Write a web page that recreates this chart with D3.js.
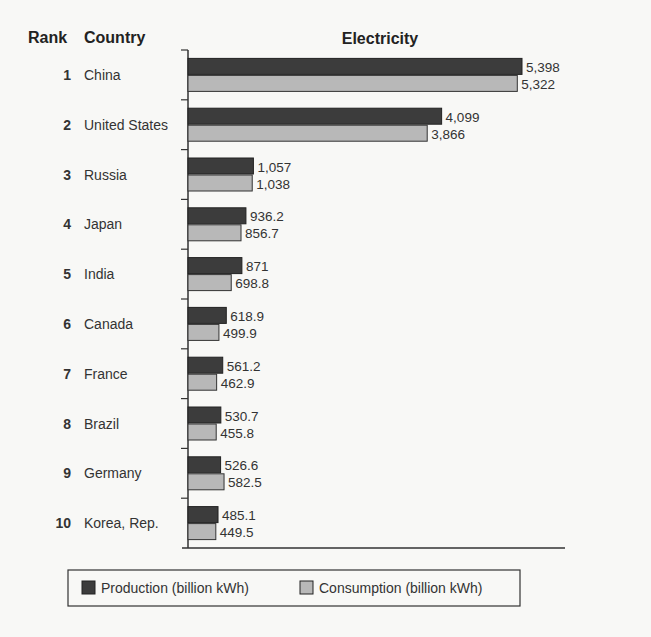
<!DOCTYPE html>
<html><head><meta charset="utf-8">
<script src="https://cdn.jsdelivr.net/npm/d3@7"></script>
<style>body{margin:0;background:#f8f8f6;font-family:"Liberation Sans",Arial,sans-serif;}</style>
</head><body>
<script>
const countries = ["China","United States","Russia","Japan","India","Canada","France","Brazil","Germany","Korea, Rep."];
const production = [5398,4099,1057,936.2,871,618.9,561.2,530.7,526.6,485.1];
const consumption = [5322,3866,1038,856.7,698.8,499.9,462.9,455.8,582.5,449.5];
const prodLabels = ["5,398","4,099","1,057","936.2","871","618.9","561.2","530.7","526.6","485.1"];
const consLabels = ["5,322","3,866","1,038","856.7","698.8","499.9","462.9","455.8","582.5","449.5"];

const W = 651, H = 637;
const svg = d3.select("body").append("svg").attr("width", W).attr("height", H)
  .style("background", "#f8f8f6");

const x0 = 188;
const x = d3.scaleLinear().domain([0, 5398]).range([x0, 522]);
const y = d3.scaleBand().domain(countries).range([50, 548]);

// header
svg.append("text").attr("x", 28).attr("y", 43).text("Rank").attr("font-weight", "bold").attr("font-size", 16).attr("fill", "#222");
svg.append("text").attr("x", 84).attr("y", 43).text("Country").attr("font-weight", "bold").attr("font-size", 16).attr("fill", "#222");
svg.append("text").attr("x", 380).attr("y", 44).attr("text-anchor", "middle").text("Electricity").attr("font-weight", "bold").attr("font-size", 16).attr("fill", "#222");

// axis
svg.append("line").attr("x1", x0).attr("x2", x0).attr("y1", 50).attr("y2", 548).attr("stroke", "#333").attr("stroke-width", 1.5);
svg.append("line").attr("x1", x0 - 6).attr("x2", 565).attr("y1", 548).attr("y2", 548).attr("stroke", "#333").attr("stroke-width", 1.5);
svg.selectAll(".tick").data(countries).enter().append("line")
  .attr("x1", x0 - 7).attr("x2", x0).attr("y1", d => y(d)).attr("y2", d => y(d))
  .attr("stroke", "#333").attr("stroke-width", 1.2);

const row = svg.selectAll(".row").data(countries).enter().append("g");
const bh = 16;
row.append("text").attr("x", 71).attr("y", d => y(d) + y.bandwidth() / 2 + 5)
  .attr("text-anchor", "end").attr("font-weight", "bold").attr("font-size", 14).attr("fill", "#333")
  .text((d, i) => i + 1);
row.append("text").attr("x", 84).attr("y", d => y(d) + y.bandwidth() / 2 + 5)
  .attr("font-size", 14).attr("fill", "#333").text(d => d);

row.append("rect").attr("x", x0).attr("y", d => y(d) + y.bandwidth() / 2 - bh - 0.5)
  .attr("width", (d, i) => x(production[i]) - x0).attr("height", bh)
  .attr("fill", "#3c3c3c").attr("stroke", "#222");
row.append("rect").attr("x", x0).attr("y", d => y(d) + y.bandwidth() / 2 + 0.5)
  .attr("width", (d, i) => x(consumption[i]) - x0).attr("height", bh)
  .attr("fill", "#b8b8b8").attr("stroke", "#333");
row.append("text").attr("x", (d, i) => x(production[i]) + 4).attr("y", d => y(d) + y.bandwidth() / 2 - 3)
  .attr("font-size", 13.5).attr("fill", "#333").text((d, i) => prodLabels[i]);
row.append("text").attr("x", (d, i) => x(consumption[i]) + 4).attr("y", d => y(d) + y.bandwidth() / 2 + 14)
  .attr("font-size", 13.5).attr("fill", "#333").text((d, i) => consLabels[i]);

// legend
svg.append("rect").attr("x", 68).attr("y", 570).attr("width", 452).attr("height", 36)
  .attr("fill", "none").attr("stroke", "#333").attr("stroke-width", 1.2);
const leg = [["Production (billion kWh)", "#3c3c3c", 82], ["Consumption (billion kWh)", "#b8b8b8", 300]];
leg.forEach(l => {
  svg.append("rect").attr("x", l[2]).attr("y", 581).attr("width", 13).attr("height", 13).attr("fill", l[1]).attr("stroke", "#222");
  svg.append("text").attr("x", l[2] + 19).attr("y", 593).attr("font-size", 14).attr("fill", "#333").text(l[0]);
});
</script>
</body></html>
